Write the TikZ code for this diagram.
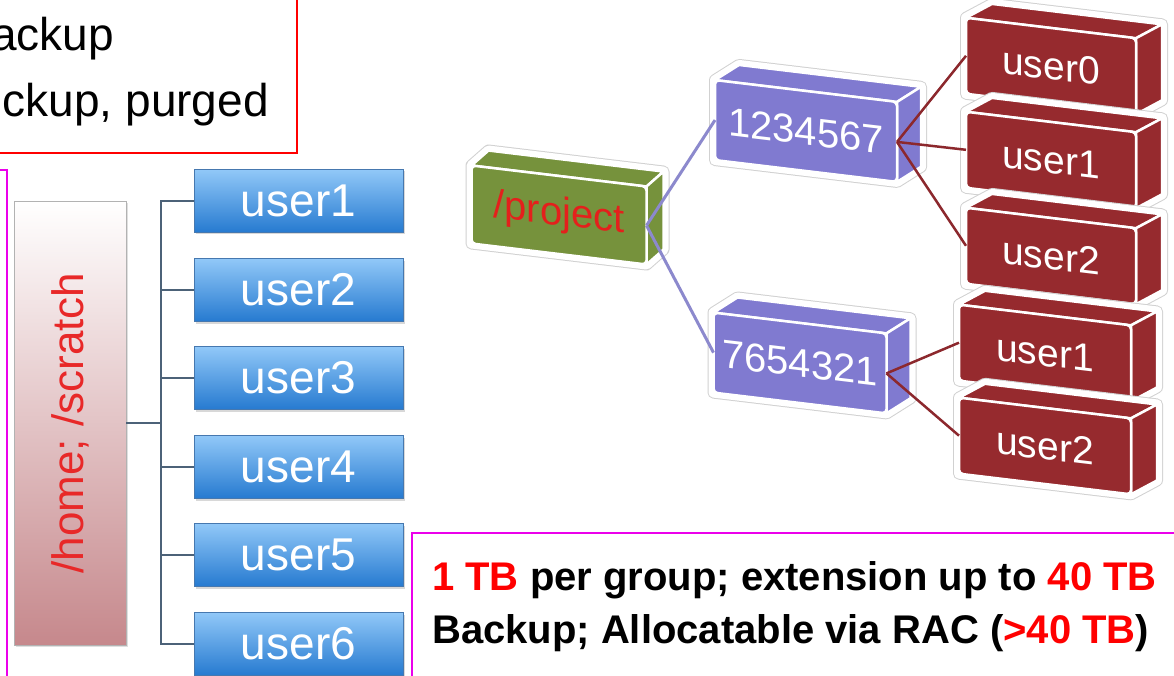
\documentclass[tikz,border=0pt]{standalone}
\usepackage{fontspec}
\setmainfont{Liberation Sans}
\usetikzlibrary{shadows}
\definecolor{tred}{RGB}{255,0,0}
\definecolor{boxred}{RGB}{150,42,46}
\definecolor{boxpurple}{RGB}{128,122,208}
\definecolor{boxgreen}{RGB}{118,146,60}
\definecolor{projtext}{RGB}{228,32,28}
\definecolor{hometext}{RGB}{232,40,40}
\definecolor{homebot}{RGB}{198,136,140}
\definecolor{bluetop}{RGB}{145,200,248}
\definecolor{bluebot}{RGB}{38,122,208}
\definecolor{blueline}{RGB}{70,120,175}
\definecolor{treeline}{RGB}{76,98,120}
\definecolor{pline}{RGB}{140,137,205}
\definecolor{rline}{RGB}{140,40,45}
\definecolor{frame}{RGB}{235,0,235}

% #1 name, #2 X, #3 Y (screen), #4 W, #5 H, #6 colour, #7 text, #8 dx, #9 dy
\newcommand\boxthreed[9]{%
  \begin{scope}[shift={(#2,-#3)}, yslant=-0.12]
    \path[halo] ({-#4/2},{-#5/2}) -- ({-#4/2},{#5/2}) -- ({-#4/2+#8},{#5/2+#9})
      -- ({#4/2+#8},{#5/2+#9}) -- ({#4/2+#8},{-#5/2+#9}) -- ({#4/2},{-#5/2}) -- cycle;
    \path[halo2] ({-#4/2},{-#5/2}) -- ({-#4/2},{#5/2}) -- ({-#4/2+#8},{#5/2+#9})
      -- ({#4/2+#8},{#5/2+#9}) -- ({#4/2+#8},{-#5/2+#9}) -- ({#4/2},{-#5/2}) -- cycle;
    \path[face, fill=#6] ({-#4/2},{#5/2}) -- ({-#4/2+#8},{#5/2+#9})
      -- ({#4/2+#8},{#5/2+#9}) -- ({#4/2},{#5/2}) -- cycle;
    \path[face, fill=#6] ({#4/2},{#5/2}) -- ({#4/2+#8},{#5/2+#9})
      -- ({#4/2+#8},{-#5/2+#9}) -- ({#4/2},{-#5/2}) -- cycle;
    \node[front, fill=#6, minimum width=#4pt, minimum height=#5pt] (#1) at (0,0) {#7};
  \end{scope}}

\begin{document}
\begin{tikzpicture}[x=1pt,y=1pt,
  halo/.style={draw=black!18, line width=12pt, line join=round, fill=white},
  halo2/.style={draw=white, line width=10pt, line join=round},
  face/.style={draw=white, line width=2.5pt, line join=round},
  front/.style={transform shape, draw=white, line width=2.5pt, rounded corners=4pt,
    inner sep=0pt, outer sep=0pt},
  ubox/.style={minimum width=209pt, minimum height=63pt, inner sep=0pt,
    top color=bluetop, bottom color=bluebot, draw=blueline, line width=0.6pt,
    drop shadow={shadow xshift=2pt, shadow yshift=-2pt, opacity=0.3},
    text=white, font=\fontsize{46}{46}\selectfont},
  tree/.style={draw=treeline, line width=2pt},
  pconn/.style={draw=pline, line width=3pt},
  rconn/.style={draw=rline, line width=2.5pt},
  bigtext/.style={font=\fontsize{46}{46}\selectfont, inner sep=0pt},
  boldtext/.style={font=\bfseries\fontsize{40}{40}\selectfont, inner sep=0pt},
]
\useasboundingbox (0,0) rectangle (1174,-676);
\clip (0,0) rectangle (1174,-676);
\fill[white] (0,0) rectangle (1174,-676);

% top-left red frame with cut text
\draw[tred, line width=2pt] (-10,10) rectangle (297,-153);
\node[bigtext, anchor=base east] (tl1) at (114,-51) {ackup};
\node[bigtext, anchor=base east] (tl2) at (269,-117) {ckup, purged};

% magenta frames
\draw[frame, line width=2pt] (-10,-170) rectangle (7,-700);
\draw[frame, line width=2.5pt] (412,-533) rectangle (1190,-700);

% left tree
\node[minimum width=112pt, minimum height=444pt, inner sep=0pt,
  top color=white, bottom color=homebot, draw=black!30, line width=0.6pt,
  drop shadow={shadow xshift=2pt, shadow yshift=-2pt, opacity=0.25},
  text=hometext, font=\fontsize{44}{44}\selectfont] (home) at (70,-423)
  {\rotatebox{90}{/home; /scratch}};

\node[ubox] (u1) at (298.5,-201) {user1};
\node[ubox] (u2) at (298.5,-290) {user2};
\node[ubox] (u3) at (298.5,-378) {user3};
\node[ubox] (u4) at (298.5,-467) {user4};
\node[ubox] (u5) at (298.5,-555) {user5};
\node[ubox] (u6) at (298.5,-644) {user6};

\coordinate (trunk) at (161,-423);
\draw[tree] (home.east) -- (trunk);
\foreach \i in {1,...,6} { \draw[tree] (trunk) |- (u\i.west); }

% right tree (3D boxes)
\boxthreed{proj}{559}{215}{175}{78}{boxgreen}{\textcolor{projtext}{\fontsize{40}{40}\selectfont /project}}{17}{17}
\boxthreed{na}{806}{131}{182}{80}{boxpurple}{\textcolor{white}{\fontsize{40}{40}\selectfont 1234567}}{24}{18}
\boxthreed{nb}{800}{363}{173}{80}{boxpurple}{\textcolor{white}{\fontsize{40}{40}\selectfont 7654321}}{24}{18}

\boxthreed{a0}{1051}{66}{170}{76}{boxred}{\textcolor{white}{\fontsize{39}{39}\selectfont user0}}{26}{17}
\boxthreed{a1}{1051}{160}{170}{76}{boxred}{\textcolor{white}{\fontsize{39}{39}\selectfont user1}}{26}{17}
\boxthreed{a2}{1051}{256}{170}{76}{boxred}{\textcolor{white}{\fontsize{39}{39}\selectfont user2}}{26}{17}
\boxthreed{b1}{1045}{353}{172}{76}{boxred}{\textcolor{white}{\fontsize{39}{39}\selectfont user1}}{26}{17}
\boxthreed{b2}{1045}{446}{172}{76}{boxred}{\textcolor{white}{\fontsize{39}{39}\selectfont user2}}{26}{17}

\draw[pconn] (proj.east) -- (na.west);
\draw[pconn] (proj.east) -- (nb.west);
\draw[rconn] (na.east) -- (a0.west);
\draw[rconn] (na.east) -- (a1.west);
\draw[rconn] (na.east) -- (a2.west);
\draw[rconn] (nb.east) -- (b1.west);
\draw[rconn] (nb.east) -- (b2.west);

% bottom text
\node[boldtext, anchor=base west] (bt1) at (432,-590)
  {\textcolor{tred}{1 TB} per group; extension up to \textcolor{tred}{40 TB}};
\node[boldtext, anchor=base west] (bt2) at (432,-643)
  {Backup; Allocatable via RAC (\textcolor{tred}{>40 TB})};
\end{tikzpicture}
\end{document}
